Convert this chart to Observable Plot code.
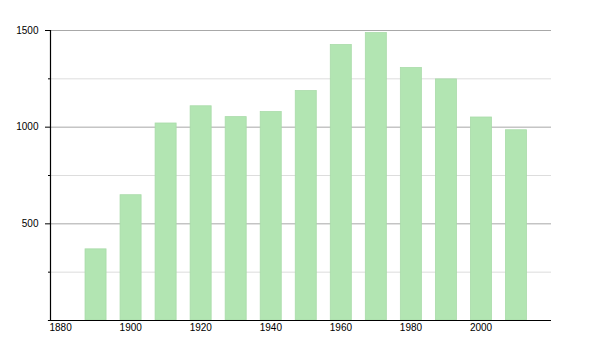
<!DOCTYPE html>
<html>
<head>
<meta charset="utf-8">
<script src="https://cdn.jsdelivr.net/npm/d3@7"></script>
<script src="https://cdn.jsdelivr.net/npm/@observablehq/plot@0.6"></script>
<style>
  html, body { margin: 0; padding: 0; background: #fff; }
  #chart svg { display: block; }
</style>
</head>
<body>
<div id="chart"></div>
<script>
const years = [1890, 1900, 1910, 1920, 1930, 1940, 1950, 1960, 1970, 1980, 1990, 2000, 2010];
const values = [368, 648, 1019, 1108, 1052, 1078, 1187, 1425, 1487, 1306, 1247, 1050, 984];
const xTicks = [1880, 1900, 1920, 1940, 1960, 1980, 2000];
const yMajor = [500, 1000, 1500];
const yMinor = [250, 750, 1250];
const barSpan = 6;

const data = years.map((y, i) => ({ year: y, value: values[i] }));

const chart = Plot.plot({
  width: 600,
  height: 350,
  marginLeft: 50,
  marginRight: 49,
  marginTop: 30,
  marginBottom: 30,
  style: { fontFamily: "'Liberation Sans', Arial, sans-serif", fontSize: "10px", background: "#fff" },
  x: { domain: [1880, 2023], axis: null },
  y: { domain: [0, 1500], axis: null },
  marks: [
    Plot.ruleY(yMinor, { stroke: "#dddddd", strokeWidth: 1 }),
    Plot.ruleY(yMajor, { stroke: "#a8a8a8", strokeWidth: 1 }),
    Plot.rectY(data, {
      x1: d => d.year,
      x2: d => d.year + barSpan,
      y1: 0,
      y2: "value",
      fill: "#b2e5b2",
      stroke: "#a9dba9",
      strokeWidth: 0.8
    }),
    Plot.axisY(yMajor, { tickSize: 5, tickPadding: 7, stroke: "#000", fill: "#000", label: null, tickFormat: d => String(d) }),
    Plot.axisY(yMinor, { tickSize: 2, stroke: "#000", label: null, tickFormat: () => "" }),
    Plot.ruleX([1880], { y1: 0, y2: 1500, stroke: "#000", strokeWidth: 1.2 }),
    Plot.ruleY([0], { x1: 1879.4, x2: 2023, stroke: "#000", strokeWidth: 1.2 }),
    Plot.axisX(xTicks, { tickSize: 0, tickPadding: 3, textAnchor: "start", dx: -1, fill: "#000", label: null, tickFormat: d => String(d) })
  ]
});
document.getElementById("chart").appendChild(chart);
</script>
</body>
</html>
